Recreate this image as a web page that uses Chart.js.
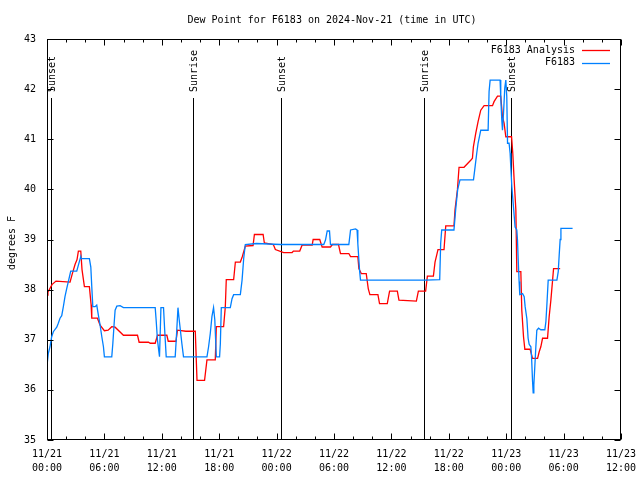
<!DOCTYPE html>
<html>
<head>
<meta charset="utf-8">
<script src="https://cdn.jsdelivr.net/npm/chart.js@4.4.1/dist/chart.umd.min.js"></script>
<style>
  html, body { margin: 0; padding: 0; background: #fff; }
  canvas { display: block; }
</style>
</head>
<body>
<canvas id="dewChart" width="640" height="480"></canvas>
<script>
// Dew point chart, gnuplot look

const titleText = "Dew Point for F6183 on 2024-Nov-21 (time in UTC)";
const yAxisLabel = "degrees F";

// x values are hours since 11/21 00:00 UTC
const tickDates = ["11/21", "11/21", "11/21", "11/21", "11/22", "11/22", "11/22", "11/22", "11/23", "11/23", "11/23"];
const tickTimes = ["00:00", "06:00", "12:00", "18:00", "00:00", "06:00", "12:00", "18:00", "00:00", "06:00", "12:00"];
const yMin = 35;
const yMax = 43;

const sunHours = [0.39, 15.22, 24.43, 39.41, 48.52];
const sunLabels = ["Sunset", "Sunrise", "Sunset", "Sunrise", "Sunset"];

const seriesNames = ["F6183 Analysis", "F6183"];
const seriesColors = ["#ff0000", "#0080ff"];

const analysisHours = [0, 0.10, 0.52, 0.94, 2.41, 2.62, 2.93, 3.14, 3.28, 3.53, 3.66, 3.91, 4.43, 4.61, 4.68, 5.27, 5.55, 6.00, 6.39, 6.77,
  7.12, 7.99, 9.46, 9.63, 10.61, 10.79, 11.31, 11.55, 12.53, 12.67, 13.48, 13.64, 14.52, 15.50, 15.68, 16.47, 16.72, 17.59, 17.70, 18.46,
  18.64, 18.74, 19.51, 19.69, 20.21, 20.42, 20.63, 20.73, 21.54, 21.68, 22.59, 22.72, 23.66, 23.87, 24.74, 25.62, 25.76, 26.42, 26.67, 27.72,
  27.82, 28.51, 28.76, 29.63, 29.84, 30.47, 30.68, 31.55, 31.73, 32.49, 32.60, 32.85, 33.37, 33.58, 33.75, 34.59, 34.76, 35.57, 35.81, 36.62,
  36.79, 38.61, 38.82, 39.58, 39.76, 40.39, 40.56, 40.87, 41.50, 41.68, 42.54, 42.65, 42.90, 43.07, 43.59, 44.29, 44.47, 44.57, 44.82, 45.06,
  45.34, 45.69, 46.57, 46.73, 47.09, 47.43, 47.61, 47.78, 47.96, 48.56, 48.69, 48.83, 49.01, 49.11, 49.53, 49.63, 49.81, 49.95, 50.50, 50.75,
  51.28, 51.45, 51.62, 51.80, 52.32, 52.49, 52.67, 52.85, 52.95, 53.64];
const analysisValues = [37.89, 37.95, 38.10, 38.17, 38.15, 38.30, 38.50, 38.60, 38.77, 38.77, 38.40, 38.06, 38.06, 37.70, 37.43, 37.43, 37.29, 37.18, 37.19, 37.26,
  37.25, 37.09, 37.09, 36.95, 36.95, 36.93, 36.93, 37.09, 37.09, 36.97, 36.97, 37.19, 37.17, 37.17, 36.19, 36.19, 36.60, 36.60, 37.26, 37.26,
  37.66, 38.20, 38.20, 38.55, 38.55, 38.66, 38.80, 38.87, 38.88, 39.10, 39.10, 38.93, 38.90, 38.80, 38.74, 38.74, 38.77, 38.77, 38.89, 38.89,
  39.00, 39.00, 38.85, 38.85, 38.90, 38.90, 38.72, 38.72, 38.66, 38.66, 38.42, 38.32, 38.32, 38.02, 37.90, 37.90, 37.72, 37.72, 37.97, 37.97,
  37.79, 37.77, 37.97, 37.97, 38.27, 38.27, 38.55, 38.80, 38.80, 39.27, 39.27, 39.59, 39.99, 40.44, 40.44, 40.58, 40.62, 40.85, 41.12, 41.35,
  41.58, 41.67, 41.67, 41.75, 41.86, 41.86, 41.45, 41.32, 41.05, 41.05, 40.72, 40.19, 39.59, 38.36, 38.36, 37.59, 37.06, 36.81, 36.81, 36.63,
  36.63, 36.76, 36.86, 37.03, 37.03, 37.46, 37.79, 38.19, 38.42, 38.42];

const stationHours = [0, 0.14, 0.31, 0.49, 0.66, 1.02, 1.18, 1.36, 1.54, 1.71, 1.88, 2.06, 2.23, 2.48, 3.11, 3.28, 3.53, 3.56, 4.43, 4.58,
  4.68, 4.79, 5.03, 5.20, 5.37, 5.55, 5.73, 5.90, 6.00, 6.77, 6.88, 7.02, 7.12, 7.30, 7.64, 7.99, 11.31, 11.41, 11.55, 11.76,
  11.91, 12.18, 12.30, 12.46, 13.40, 13.51, 13.69, 13.82, 14.10, 14.27, 16.72, 16.89, 17.07, 17.24, 17.41, 17.54, 17.70, 18.04, 18.12, 18.22,
  19.16, 19.34, 19.51, 20.21, 20.39, 20.56, 20.73, 21.88, 24.40, 28.93, 29.11, 29.29, 29.53, 29.63, 31.55, 31.73, 32.25, 32.41, 32.49, 32.67,
  32.77, 39.58, 41.05, 41.15, 41.26, 42.54, 42.72, 42.93, 43.17, 44.58, 44.71, 44.92, 45.06, 45.34, 46.11, 46.21, 46.32, 47.36, 47.43, 47.54,
  47.61, 47.72, 47.85, 47.96, 48.06, 48.14, 48.30, 48.41, 48.48, 48.59, 48.76, 48.93, 49.11, 49.18, 49.25, 49.35, 49.42, 49.71, 49.88, 49.98,
  50.16, 50.29, 50.40, 50.58, 50.65, 50.75, 50.82, 50.89, 50.99, 51.10, 51.20, 51.38, 51.62, 52.04, 52.15, 52.25, 52.39, 53.30, 53.44, 53.54,
  53.64, 53.72, 54.94];
const stationValues = [36.49, 36.73, 36.86, 37.06, 37.16, 37.25, 37.33, 37.43, 37.48, 37.66, 37.86, 38.02, 38.16, 38.37, 38.37, 38.49, 38.66, 38.62, 38.62, 38.45,
  38.06, 37.66, 37.66, 37.69, 37.49, 37.29, 37.06, 36.86, 36.66, 36.66, 36.92, 37.33, 37.59, 37.67, 37.68, 37.64, 37.64, 37.39, 36.99, 36.66,
  37.64, 37.64, 37.20, 36.66, 36.66, 37.00, 37.64, 37.40, 36.92, 36.66, 36.66, 36.86, 37.13, 37.46, 37.64, 37.40, 36.66, 36.66, 36.92, 37.64,
  37.64, 37.82, 37.90, 37.90, 38.19, 38.62, 38.90, 38.92, 38.90, 38.90, 38.99, 39.17, 39.17, 38.90, 38.90, 39.19, 39.21, 39.19, 38.92, 38.39,
  38.19, 38.19, 38.20, 38.92, 39.19, 39.19, 39.60, 40.00, 40.19, 40.19, 40.39, 40.72, 40.92, 41.18, 41.18, 41.95, 42.18, 42.18, 41.85, 41.38,
  41.18, 41.52, 42.02, 42.18, 41.85, 40.92, 40.92, 40.72, 40.45, 40.05, 39.65, 39.25, 39.19, 38.99, 38.62, 38.16, 37.90, 37.92, 37.86, 37.66,
  37.42, 37.03, 36.91, 36.86, 36.66, 36.19, 35.94, 36.10, 36.46, 36.86, 37.19, 37.23, 37.20, 37.20, 37.36, 37.69, 38.19, 38.19, 38.36, 38.69,
  39.00, 39.22, 39.22];

const FONT = "DejaVu Sans Mono";

function toPoints(hours, values) {
    return hours.map((h, i) => ({ x: h, y: values[i] }));
}

// frame, inward ticks, sun lines, legend, title
const gnuplotDecor = {
    id: "gnuplotDecor",
    beforeDatasetsDraw(chart) {
        const { ctx, chartArea } = chart;
        const xs = chart.scales.x;
        ctx.save();
        ctx.strokeStyle = "#000";
        ctx.fillStyle = "#000";
        ctx.lineWidth = 1;
        ctx.font = "10px '" + FONT + "'";
        sunHours.forEach((h, i) => {
            const px = Math.round(xs.getPixelForValue(h)) + 0.5;
            ctx.beginPath();
            ctx.moveTo(px, 98);
            ctx.lineTo(px, chartArea.bottom);
            ctx.stroke();
            ctx.save();
            ctx.translate(px + 1, 92);
            ctx.rotate(-Math.PI / 2);
            ctx.textAlign = "left";
            ctx.textBaseline = "middle";
            ctx.fillText(sunLabels[i], 0, 0);
            ctx.restore();
        });
        ctx.restore();
    },
    afterDraw(chart) {
        const { ctx, chartArea } = chart;
        const xs = chart.scales.x;
        const ys = chart.scales.y;
        const L = chartArea.left + 0.5, R = chartArea.right - 0.5;
        const T = chartArea.top + 0.5, B = chartArea.bottom - 0.5;
        ctx.save();
        ctx.strokeStyle = "#000";
        ctx.fillStyle = "#000";
        ctx.lineWidth = 1;
        ctx.strokeRect(L, T, R - L, B - T);

        ctx.beginPath();
        for (let h = 0; h <= 60; h += 2) {
            const px = Math.round(xs.getPixelForValue(h)) + 0.5;
            const len = h % 6 === 0 ? 6 : 3;
            ctx.moveTo(px, B); ctx.lineTo(px, B - len);
            ctx.moveTo(px, T); ctx.lineTo(px, T + len);
        }
        for (let v = yMin; v <= yMax; v++) {
            const py = Math.round(ys.getPixelForValue(v)) + 0.5;
            ctx.moveTo(L, py); ctx.lineTo(L + 6, py);
            ctx.moveTo(R, py); ctx.lineTo(R - 6, py);
        }
        ctx.stroke();

        ctx.font = "10px '" + FONT + "'";
        ctx.textAlign = "center";
        ctx.textBaseline = "middle";
        ctx.fillText(titleText, 332, 20);

        ctx.save();
        ctx.translate(12, 243);
        ctx.rotate(-Math.PI / 2);
        ctx.fillText(yAxisLabel, 0, 0);
        ctx.restore();

        // legend, top right
        ctx.textAlign = "right";
        seriesNames.forEach((name, i) => {
            const y = 50 + i * 12.5;
            ctx.fillStyle = "#000";
            ctx.fillText(name, 575, y);
            ctx.strokeStyle = seriesColors[i];
            ctx.lineWidth = 1.3;
            ctx.beginPath();
            ctx.moveTo(582, Math.round(y) + 0.5);
            ctx.lineTo(610, Math.round(y) + 0.5);
            ctx.stroke();
        });
        ctx.restore();
    }
};

new Chart(document.getElementById("dewChart"), {
    type: "line",
    data: {
        datasets: [
            {
                label: seriesNames[0],
                data: toPoints(analysisHours, analysisValues),
                borderColor: seriesColors[0],
                borderWidth: 1.3,
                pointRadius: 0,
                tension: 0,
                order: 2
            },
            {
                label: seriesNames[1],
                data: toPoints(stationHours, stationValues),
                borderColor: seriesColors[1],
                borderWidth: 1.3,
                pointRadius: 0,
                tension: 0,
                order: 1
            }
        ]
    },
    options: {
        responsive: false,
        animation: false,
        devicePixelRatio: 1,
        layout: { padding: { top: 39, right: 19, left: 0, bottom: 0 } },
        plugins: {
            legend: { display: false },
            title: { display: false },
            tooltip: { enabled: false }
        },
        scales: {
            x: {
                type: "linear",
                min: 0,
                max: 60,
                grid: { display: false, drawTicks: false },
                border: { display: false },
                afterFit: (scale) => {
                    scale.height = 40;
                    scale.paddingLeft = 0;
                    scale.paddingRight = 0;
                },
                afterBuildTicks: (scale) => {
                    scale.ticks = tickDates.map((d, i) => ({ value: i * 6 }));
                },
                ticks: {
                    autoSkip: false,
                    maxRotation: 0,
                    padding: 7,
                    color: "#000",
                    font: { family: FONT, size: 10, lineHeight: 1.4 },
                    callback: (value) => {
                        const i = Math.round(value / 6);
                        return [tickDates[i], tickTimes[i]];
                    }
                }
            },
            y: {
                min: yMin,
                max: yMax,
                grid: { display: false, drawTicks: false },
                border: { display: false },
                afterFit: (scale) => {
                    scale.width = 47;
                    scale.paddingTop = 0;
                    scale.paddingBottom = 0;
                },
                ticks: {
                    stepSize: 1,
                    padding: 11,
                    color: "#000",
                    font: { family: FONT, size: 10 }
                }
            }
        }
    },
    plugins: [gnuplotDecor]
});
</script>
</body>
</html>
